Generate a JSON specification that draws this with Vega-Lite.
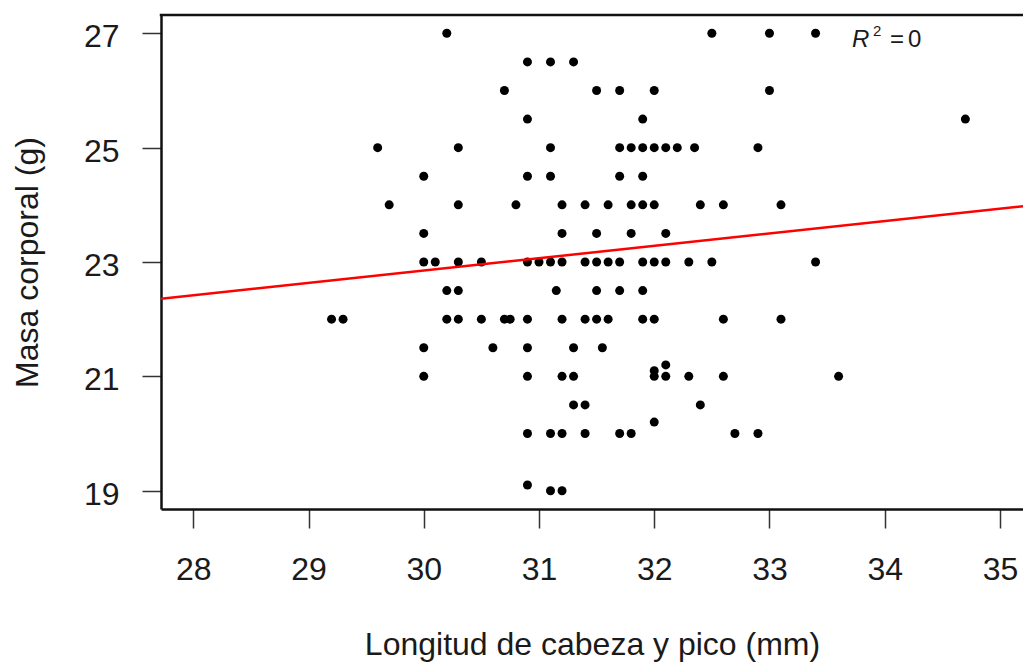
{
  "$schema": "https://vega.github.io/schema/vega-lite/v6.json",
  "width": 862,
  "height": 494,
  "autosize": {"type": "none"},
  "padding": {"left": 161, "top": 15, "right": 0, "bottom": 155},
  "background": "white",
  "config": {"font": "Liberation Sans", "view": {"stroke": null}},
  "datasets": {
    "pts": [
      {"longitud": 30.2, "masa": 27}, {"longitud": 32.5, "masa": 27}, {"longitud": 33.0, "masa": 27}, {"longitud": 33.4, "masa": 27},
      {"longitud": 30.9, "masa": 26.5}, {"longitud": 31.1, "masa": 26.5}, {"longitud": 31.3, "masa": 26.5},
      {"longitud": 30.7, "masa": 26}, {"longitud": 31.5, "masa": 26}, {"longitud": 31.7, "masa": 26}, {"longitud": 32.0, "masa": 26}, {"longitud": 33.0, "masa": 26},
      {"longitud": 30.9, "masa": 25.5}, {"longitud": 31.9, "masa": 25.5}, {"longitud": 34.7, "masa": 25.5},
      {"longitud": 29.6, "masa": 25}, {"longitud": 30.3, "masa": 25}, {"longitud": 31.1, "masa": 25}, {"longitud": 31.7, "masa": 25}, {"longitud": 31.8, "masa": 25}, {"longitud": 31.9, "masa": 25}, {"longitud": 32.0, "masa": 25}, {"longitud": 32.1, "masa": 25}, {"longitud": 32.2, "masa": 25}, {"longitud": 32.35, "masa": 25}, {"longitud": 32.9, "masa": 25},
      {"longitud": 30.0, "masa": 24.5}, {"longitud": 30.9, "masa": 24.5}, {"longitud": 31.1, "masa": 24.5}, {"longitud": 31.7, "masa": 24.5}, {"longitud": 31.9, "masa": 24.5},
      {"longitud": 29.7, "masa": 24}, {"longitud": 30.3, "masa": 24}, {"longitud": 30.8, "masa": 24}, {"longitud": 31.2, "masa": 24}, {"longitud": 31.4, "masa": 24}, {"longitud": 31.6, "masa": 24}, {"longitud": 31.8, "masa": 24}, {"longitud": 31.9, "masa": 24}, {"longitud": 32.0, "masa": 24}, {"longitud": 32.4, "masa": 24}, {"longitud": 32.6, "masa": 24}, {"longitud": 33.1, "masa": 24},
      {"longitud": 30.0, "masa": 23.5}, {"longitud": 31.2, "masa": 23.5}, {"longitud": 31.5, "masa": 23.5}, {"longitud": 31.8, "masa": 23.5}, {"longitud": 32.1, "masa": 23.5},
      {"longitud": 30.0, "masa": 23}, {"longitud": 30.1, "masa": 23}, {"longitud": 30.3, "masa": 23}, {"longitud": 30.5, "masa": 23}, {"longitud": 30.9, "masa": 23}, {"longitud": 31.0, "masa": 23}, {"longitud": 31.1, "masa": 23}, {"longitud": 31.2, "masa": 23}, {"longitud": 31.4, "masa": 23}, {"longitud": 31.5, "masa": 23}, {"longitud": 31.6, "masa": 23}, {"longitud": 31.7, "masa": 23}, {"longitud": 31.9, "masa": 23}, {"longitud": 32.0, "masa": 23}, {"longitud": 32.1, "masa": 23}, {"longitud": 32.3, "masa": 23}, {"longitud": 32.5, "masa": 23}, {"longitud": 33.4, "masa": 23},
      {"longitud": 30.2, "masa": 22.5}, {"longitud": 30.3, "masa": 22.5}, {"longitud": 31.15, "masa": 22.5}, {"longitud": 31.5, "masa": 22.5}, {"longitud": 31.7, "masa": 22.5}, {"longitud": 31.9, "masa": 22.5},
      {"longitud": 29.2, "masa": 22}, {"longitud": 29.3, "masa": 22}, {"longitud": 30.2, "masa": 22}, {"longitud": 30.3, "masa": 22}, {"longitud": 30.5, "masa": 22}, {"longitud": 30.7, "masa": 22}, {"longitud": 30.75, "masa": 22}, {"longitud": 30.9, "masa": 22}, {"longitud": 31.2, "masa": 22}, {"longitud": 31.4, "masa": 22}, {"longitud": 31.5, "masa": 22}, {"longitud": 31.6, "masa": 22}, {"longitud": 31.9, "masa": 22}, {"longitud": 32.0, "masa": 22}, {"longitud": 32.6, "masa": 22}, {"longitud": 33.1, "masa": 22},
      {"longitud": 30.0, "masa": 21.5}, {"longitud": 30.6, "masa": 21.5}, {"longitud": 30.9, "masa": 21.5}, {"longitud": 31.3, "masa": 21.5}, {"longitud": 31.55, "masa": 21.5},
      {"longitud": 30.0, "masa": 21}, {"longitud": 30.9, "masa": 21}, {"longitud": 31.2, "masa": 21}, {"longitud": 31.3, "masa": 21}, {"longitud": 32.0, "masa": 21}, {"longitud": 32.1, "masa": 21}, {"longitud": 32.3, "masa": 21}, {"longitud": 32.6, "masa": 21}, {"longitud": 33.6, "masa": 21},
      {"longitud": 32.0, "masa": 21.1}, {"longitud": 32.1, "masa": 21.2},
      {"longitud": 31.3, "masa": 20.5}, {"longitud": 31.4, "masa": 20.5}, {"longitud": 32.4, "masa": 20.5},
      {"longitud": 32.0, "masa": 20.2},
      {"longitud": 30.9, "masa": 20}, {"longitud": 31.1, "masa": 20}, {"longitud": 31.2, "masa": 20}, {"longitud": 31.4, "masa": 20}, {"longitud": 31.7, "masa": 20}, {"longitud": 31.8, "masa": 20}, {"longitud": 32.7, "masa": 20}, {"longitud": 32.9, "masa": 20},
      {"longitud": 30.9, "masa": 19.1},
      {"longitud": 31.1, "masa": 19}, {"longitud": 31.2, "masa": 19}
    ],
    "fit": [
      {"longitud": 27.72, "masa": 22.357},
      {"longitud": 35.2, "masa": 23.974}
    ]
  },
  "layer": [
    {
      "data": {"name": "pts"},
      "mark": {"type": "point", "filled": true, "shape": "circle", "size": 81, "color": "#000000", "opacity": 1},
      "encoding": {
        "x": {
          "field": "longitud", "type": "quantitative",
          "scale": {"domain": [27.72, 35.2], "nice": false, "zero": false},
          "axis": {
            "values": [28, 29, 30, 31, 32, 33, 34, 35], "format": "d",
            "orient": "bottom", "grid": false,
            "domain": true, "domainColor": "#111111", "domainWidth": 2.5,
            "ticks": true, "tickSize": 19, "tickColor": "#333333", "tickWidth": 1.5,
            "labelFontSize": 32, "labelColor": "#1a1a1a", "labelPadding": 26, "labelFlush": false, "labelOverlap": false,
            "title": "Longitud de cabeza y pico (mm)", "titleFontSize": 32, "titleFontWeight": "normal", "titleColor": "#1a1a1a", "titlePadding": 44
          }
        },
        "y": {
          "field": "masa", "type": "quantitative",
          "scale": {"domain": [18.68, 27.32], "nice": false, "zero": false},
          "axis": {
            "values": [19, 21, 23, 25, 27], "format": "d",
            "orient": "left", "grid": false,
            "domain": true, "domainColor": "#111111", "domainWidth": 2.5,
            "ticks": true, "tickSize": 19, "tickColor": "#333333", "tickWidth": 1.5,
            "labelFontSize": 32, "labelColor": "#1a1a1a", "labelPadding": 23, "labelOffset": 3.5, "labelFlush": false, "labelOverlap": false,
            "title": "Masa corporal (g)", "titleFontSize": 32, "titleFontWeight": "normal", "titleColor": "#1a1a1a", "titlePadding": 39
          }
        }
      }
    },
    {
      "data": {"name": "fit"},
      "mark": {"type": "line", "color": "#ff0000", "strokeWidth": 2.5, "clip": true},
      "encoding": {
        "x": {"field": "longitud", "type": "quantitative"},
        "y": {"field": "masa", "type": "quantitative"}
      }
    },
    {
      "data": {"values": [{}]},
      "mark": {"type": "rule", "color": "#111111", "strokeWidth": 2.5, "strokeCap": "square"},
      "encoding": {"y": {"datum": 27.32}}
    },
    {
      "data": {"values": [{}]},
      "mark": {"type": "text", "text": "R", "fontSize": 24, "fontStyle": "italic", "align": "left", "baseline": "alphabetic", "color": "#1a1a1a"},
      "encoding": {"x": {"datum": 33.716}, "y": {"datum": 26.755}}
    },
    {
      "data": {"values": [{}]},
      "mark": {"type": "text", "text": "2", "fontSize": 15, "align": "left", "baseline": "alphabetic", "dx": 21, "dy": -11.6, "color": "#1a1a1a"},
      "encoding": {"x": {"datum": 33.716}, "y": {"datum": 26.755}}
    },
    {
      "data": {"values": [{}]},
      "mark": {"type": "text", "text": "=", "fontSize": 24, "align": "left", "baseline": "alphabetic", "dx": 38, "color": "#1a1a1a"},
      "encoding": {"x": {"datum": 33.716}, "y": {"datum": 26.755}}
    },
    {
      "data": {"values": [{}]},
      "mark": {"type": "text", "text": "0", "fontSize": 24, "align": "left", "baseline": "alphabetic", "dx": 56, "color": "#1a1a1a"},
      "encoding": {"x": {"datum": 33.716}, "y": {"datum": 26.755}}
    }
  ]
}
